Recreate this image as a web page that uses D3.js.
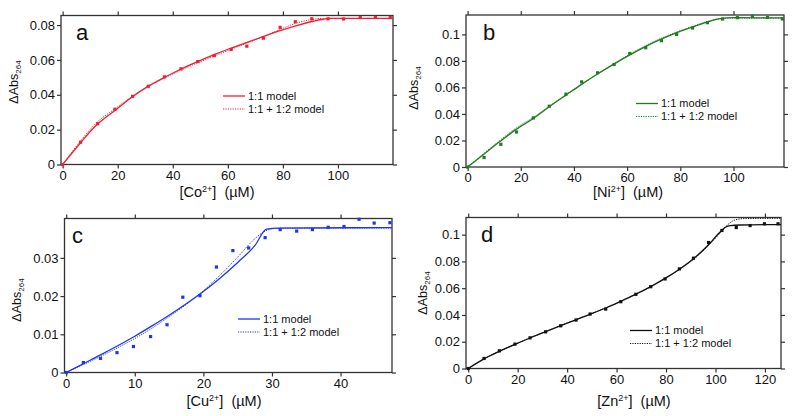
<!DOCTYPE html>
<meta charset="utf-8">
<head>
    <script src="https://d3js.org/d3.v7.min.js"></script>
    <style>
        body { margin: 0; background: #fff; }
        text { font-family: "Liberation Sans", Helvetica, Arial, sans-serif; fill: #111; }
    </style>
</head>
<body>
<div id="graph"></div>
<script>
    // panel a: Co2+
    var coConc = [0, 6.5, 12.7, 19, 25.4, 31.1, 37, 43, 49.1, 55.1, 61.2, 66.9, 72.9, 79, 84.5, 90.5, 96.4, 102, 108.1, 113.6, 119];
    var coAbs  = [0, 0.0128, 0.0234, 0.0317, 0.0391, 0.0449, 0.0503, 0.0549, 0.0591, 0.0625, 0.066, 0.0679, 0.0725, 0.0787, 0.0819, 0.0836, 0.0836, 0.0835, 0.0844, 0.0844, 0.0844];
    var coFit1Conc = [0, 6, 12, 19, 25, 31, 37, 43, 49, 55, 61, 67, 73, 79, 85, 91, 94, 97, 120];
    var coFit1Abs  = [0, 0.0115, 0.0222, 0.031, 0.0385, 0.0448, 0.05, 0.0548, 0.059, 0.063, 0.0667, 0.0701, 0.0735, 0.0768, 0.0797, 0.0822, 0.0832, 0.0838, 0.0838];
    var coFit2Conc = [0, 6, 12, 19, 25, 31, 37, 43, 49, 55, 61, 67, 73, 79, 85, 91, 94, 120];
    var coFit2Abs  = [0, 0.0125, 0.0235, 0.032, 0.0388, 0.0447, 0.0497, 0.0542, 0.0583, 0.0622, 0.066, 0.0697, 0.0735, 0.0775, 0.0812, 0.0833, 0.0838, 0.0838];

    // panel b: Ni2+
    var niConc = [0, 6.2, 12.5, 18.4, 24.7, 30.7, 37, 42.9, 48.9, 55.1, 61, 67, 72.9, 78.6, 84.6, 90.2, 95.9, 101.5, 107.1, 112.8, 118.4];
    var niAbs  = [0, 0.0071, 0.0171, 0.0264, 0.037, 0.0458, 0.0549, 0.0642, 0.071, 0.0773, 0.0856, 0.0899, 0.0952, 0.1, 0.1048, 0.1088, 0.1116, 0.1126, 0.1136, 0.1128, 0.1116];
    var niFit1Conc = [0, 6, 12, 18, 25, 31, 37, 43, 49, 55, 61, 67, 73, 79, 85, 91, 95, 100, 119];
    var niFit1Abs  = [0, 0.0095, 0.019, 0.028, 0.037, 0.0458, 0.0542, 0.0625, 0.0703, 0.0776, 0.0845, 0.091, 0.0966, 0.1015, 0.1058, 0.1098, 0.1118, 0.1126, 0.1124];
    var niFit2Conc = [0, 6, 12, 18, 25, 31, 37, 43, 49, 55, 61, 67, 73, 79, 85, 91, 97, 119];
    var niFit2Abs  = [0, 0.01, 0.0198, 0.029, 0.0378, 0.0463, 0.0545, 0.0625, 0.0703, 0.0778, 0.085, 0.0915, 0.0972, 0.102, 0.1062, 0.1103, 0.1122, 0.1122];

    // panel c: Cu2+
    var cuConc = [0, 2.5, 5, 7.4, 9.8, 12.3, 14.7, 17, 19.5, 21.9, 24.3, 26.6, 29, 31.2, 33.6, 35.9, 38.2, 40.5, 42.7, 44.9, 47.2];
    var cuAbs  = [0, 0.0026, 0.0037, 0.0052, 0.0068, 0.0094, 0.0125, 0.0197, 0.0201, 0.0276, 0.0319, 0.0326, 0.0353, 0.0374, 0.037, 0.0374, 0.038, 0.0382, 0.0401, 0.0391, 0.0392];
    var cuFit1Conc = [0, 2.5, 5, 7.5, 10, 12.5, 15, 17.5, 20, 22.5, 25, 27.5, 29.2, 31, 47.5];
    var cuFit1Abs  = [0, 0.0023, 0.0046, 0.007, 0.0095, 0.0122, 0.015, 0.018, 0.0212, 0.0248, 0.0288, 0.0332, 0.0375, 0.0378, 0.0379];
    var cuFit2Conc = [0, 2.5, 5, 7.5, 10, 12.5, 15, 17.5, 20, 22.5, 25, 27.5, 29, 30, 32, 47.5];
    var cuFit2Abs  = [0, 0.0021, 0.0042, 0.0065, 0.0089, 0.0116, 0.0146, 0.0178, 0.0214, 0.0256, 0.0302, 0.035, 0.037, 0.0376, 0.0378, 0.0378];

    // panel d: Zn2+
    var znConc = [0, 6.4, 12.6, 18.9, 25, 31.3, 37.4, 43.6, 49.3, 55.6, 61.7, 67.8, 73.8, 79.6, 85.4, 91.1, 97.2, 102.6, 108.4, 114, 119.8, 125.3];
    var znAbs  = [0, 0.0075, 0.0132, 0.0182, 0.0229, 0.0274, 0.0319, 0.0362, 0.0407, 0.0444, 0.0499, 0.0554, 0.0611, 0.0669, 0.0744, 0.0824, 0.0941, 0.1031, 0.1053, 0.1068, 0.1081, 0.1081];
    var znFit1Conc = [0, 6.4, 12.6, 18.9, 25, 31.3, 37.4, 43.6, 49.3, 55.6, 61.7, 67.8, 73.8, 79.6, 85.4, 91.1, 97.2, 102, 104, 106, 110, 126.5];
    var znFit1Abs  = [0, 0.0072, 0.0128, 0.018, 0.0228, 0.0275, 0.032, 0.0364, 0.0405, 0.0452, 0.0502, 0.0555, 0.0612, 0.0673, 0.0742, 0.082, 0.0925, 0.1022, 0.1055, 0.1068, 0.1072, 0.1075];
    var znFit2Conc = [0, 6.4, 12.6, 18.9, 25, 31.3, 37.4, 43.6, 49.3, 55.6, 61.7, 67.8, 73.8, 79.6, 85.4, 91.1, 97.2, 102, 105, 108, 112, 126.5];
    var znFit2Abs  = [0, 0.0073, 0.013, 0.0181, 0.0229, 0.0276, 0.0321, 0.0365, 0.0406, 0.0453, 0.0502, 0.0555, 0.0611, 0.0671, 0.0739, 0.0815, 0.0918, 0.1015, 0.1075, 0.111, 0.112, 0.1122];

    var legendLabels = ["1:1 model", "1:1 + 1:2 model"];

    // layout per panel (pixel boxes)
    var panels = [
        {id: "a", ion: "Co", color: "#ee2036", box: [61, 393, 15.5, 164.5], x0: -0.6, xMax: 120, yMax: 0.0855, xTicks: [0,20,40,60,80,100], yTicks: [0,0.02,0.04,0.06,0.08],
         pts: [coConc, coAbs], f1: [coFit1Conc, coFit1Abs], f2: [coFit2Conc, coFit2Abs], yLab: [14, 82], xLab: [217, 197], leg: [223, 96], letter: [76, 40]},
        {id: "b", ion: "Ni", color: "#1f7d1f", box: [466, 784, 15, 167], x0: -0.6, xMax: 119, yMax: 0.1146, xTicks: [0,20,40,60,80,100], yTicks: [0,0.02,0.04,0.06,0.08,0.1],
         pts: [niConc, niAbs], f1: [niFit1Conc, niFit1Abs], f2: [niFit2Conc, niFit2Abs], yLab: [414, 88], xLab: [628, 197], leg: [636, 103.5], letter: [483, 40]},
        {id: "c", ion: "Cu", color: "#1f35f0", box: [64.5, 392, 218.5, 372.5], x0: -0.25, xMax: 47.5, yMax: 0.0403, xTicks: [0,10,20,30,40], yTicks: [0,0.01,0.02,0.03],
         pts: [cuConc, cuAbs], f1: [cuFit1Conc, cuFit1Abs], f2: [cuFit2Conc, cuFit2Abs], yLab: [17, 300], xLab: [224, 406], leg: [238, 319], letter: [72, 243]},
        {id: "d", ion: "Zn", color: "#111111", box: [466, 781, 217.5, 368.5], x0: -0.9, xMax: 126.5, yMax: 0.1128, xTicks: [0,20,40,60,80,100,120], yTicks: [0,0.02,0.04,0.06,0.08,0.1],
         pts: [znConc, znAbs], f1: [znFit1Conc, znFit1Abs], f2: [znFit2Conc, znFit2Abs], yLab: [423, 293], xLab: [634, 406], leg: [630, 330.5], letter: [481, 242]}
    ];

    var svg = d3.select("#graph")
      .append("svg")
        .attr("width", 800)
        .attr("height", 416);

    var fmt = function(d) { return d === 0 ? "0" : String(+d.toFixed(3)); };

    panels.forEach(function(p) {
        var left = p.box[0], right = p.box[1], top = p.box[2], bottom = p.box[3];
        var x = d3.scaleLinear().domain([p.x0, p.xMax]).range([left, right]);
        var y = d3.scaleLinear().domain([0, p.yMax]).range([bottom, top]);
        var g = svg.append("g");

        // axes on all four sides, ticks outward
        g.append("g").attr("transform", "translate(0," + bottom + ")")
            .call(d3.axisBottom(x).tickValues(p.xTicks).tickSize(4).tickPadding(2).tickFormat(fmt));
        g.append("g").attr("transform", "translate(0," + top + ")")
            .call(d3.axisTop(x).tickValues(p.xTicks).tickSize(4).tickFormat(""));
        g.append("g").attr("transform", "translate(" + left + ",0)")
            .call(d3.axisLeft(y).tickValues(p.yTicks).tickSize(4).tickPadding(2).tickFormat(fmt));
        g.append("g").attr("transform", "translate(" + right + ",0)")
            .call(d3.axisRight(y).tickValues(p.yTicks).tickSize(4).tickFormat(""));
        g.selectAll(".domain").remove();
        g.selectAll(".tick line").attr("stroke", "#333").attr("stroke-width", 1.2);
        g.selectAll(".tick text").style("font-size", "13px").attr("fill", "#111");

        g.append("rect")
            .attr("x", left).attr("y", top)
            .attr("width", right - left).attr("height", bottom - top)
            .attr("fill", "none").attr("stroke", "#333").attr("stroke-width", 1.3);

        var line = d3.line()
            .x(function(d) { return x(d[0]); })
            .y(function(d) { return y(d[1]); })
            .curve(d3.curveMonotoneX);

        var f1 = d3.zip(p.f1[0], p.f1[1]);
        var f2 = d3.zip(p.f2[0], p.f2[1]);
        g.append("path").datum(f2).attr("d", line)
            .attr("fill", "none").attr("stroke", p.color).attr("stroke-width", 1)
            .attr("stroke-dasharray", "1.2,1.2");
        g.append("path").datum(f1).attr("d", line)
            .attr("fill", "none").attr("stroke", p.color).attr("stroke-width", 1.3);

        // data points
        g.selectAll("rect.pt")
            .data(d3.zip(p.pts[0], p.pts[1]))
            .enter()
            .append("rect")
            .attr("class", "pt")
            .attr("x", function(d) { return x(d[0]) - 1.6; })
            .attr("y", function(d) { return y(d[1]) - 1.6; })
            .attr("width", 3.2).attr("height", 3.2)
            .attr("fill", p.color);

        // panel letter
        g.append("text").attr("x", p.letter[0]).attr("y", p.letter[1])
            .style("font-size", "22px").text(p.id);

        // y label
        var yl = g.append("text")
            .attr("transform", "translate(" + p.yLab[0] + "," + p.yLab[1] + ") rotate(-90)")
            .attr("text-anchor", "middle")
            .attr("dy", "0.35em")
            .style("font-size", "12.5px");
        yl.append("tspan").text("\u0394Abs");
        yl.append("tspan").attr("dy", "3").style("font-size", "8px").text("264");

        // x label
        var xl = g.append("text")
            .attr("x", p.xLab[0]).attr("y", p.xLab[1])
            .attr("text-anchor", "middle")
            .style("font-size", "14.5px");
        xl.append("tspan").text("[" + p.ion);
        xl.append("tspan").attr("dy", "-5.5").style("font-size", "9px").text("2+");
        xl.append("tspan").attr("dy", "5.5").text("]\u00a0\u00a0(\u00b5M)");

        // legend
        var lx = p.leg[0], ly = p.leg[1], gap = 13;
        g.append("line").attr("x1", lx).attr("x2", lx + 22).attr("y1", ly).attr("y2", ly)
            .attr("stroke", p.color).attr("stroke-width", 1.3);
        g.append("line").attr("x1", lx).attr("x2", lx + 22).attr("y1", ly + gap).attr("y2", ly + gap)
            .attr("stroke", p.color).attr("stroke-width", 1).attr("stroke-dasharray", "1.2,1.2");
        legendLabels.forEach(function(t, i) {
            g.append("text").attr("x", lx + 25).attr("y", ly + i * gap)
                .attr("dy", "0.35em").style("font-size", "11px").text(t);
        });
    });
</script>
</body>
